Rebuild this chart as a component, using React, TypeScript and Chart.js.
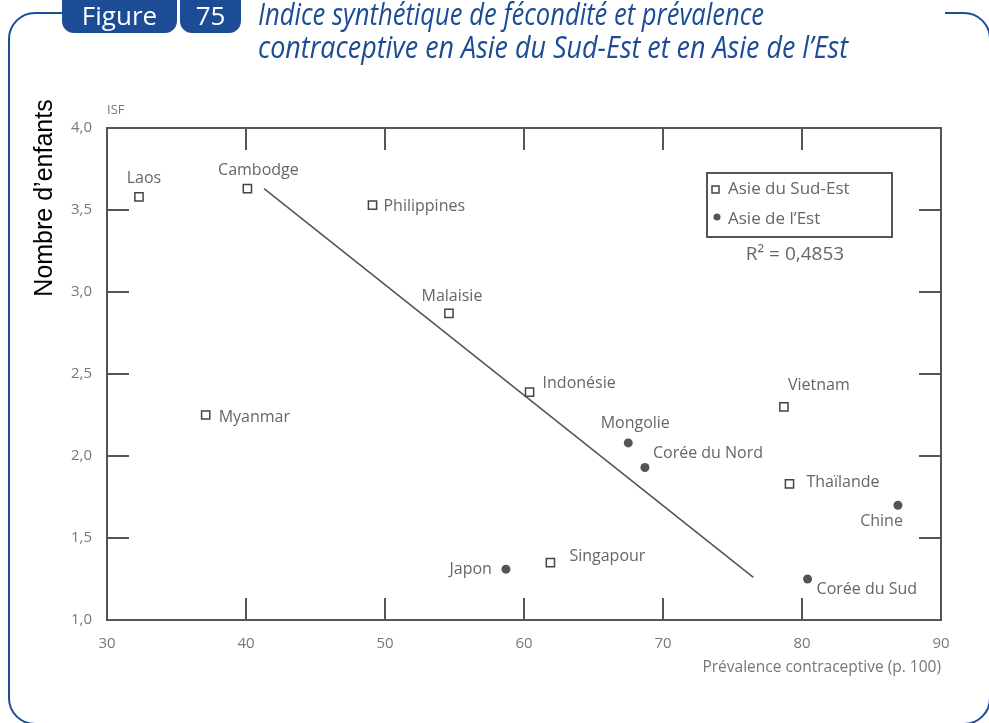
import React, { useEffect, useLayoutEffect, useRef, useState } from 'react';
import { Chart, registerables } from 'chart.js';
Chart.register(...registerables);

// ---- Data ----
const seaCountries = ['Laos', 'Cambodge', 'Philippines', 'Malaisie', 'Indonésie', 'Myanmar', 'Vietnam', 'Thaïlande', 'Singapour'];
const seaPrevalence = [32.3, 40.1, 49.1, 54.6, 60.4, 37.1, 78.7, 79.1, 61.9];
const seaISF = [3.58, 3.63, 3.53, 2.87, 2.39, 2.25, 2.3, 1.83, 1.35];

const eaCountries = ['Mongolie', 'Corée du Nord', 'Japon', 'Chine', 'Corée du Sud'];
const eaPrevalence = [67.5, 68.7, 58.7, 86.9, 80.4];
const eaISF = [2.08, 1.93, 1.31, 1.7, 1.25];

const trendPrevalence = [41.3, 76.5];
const trendISF = [3.63, 1.26];

const xTickLabels = ['30', '40', '50', '60', '70', '80', '90'];
const yTickLabels = ['1,0', '1,5', '2,0', '2,5', '3,0', '3,5', '4,0'];
const legendLabels = ['Asie du Sud-Est', 'Asie de l\u2019Est'];
const r2Text = 'R\u00B2 = 0,4853';
const yAxisTitle = 'Nombre d\u2019enfants';
const yUnitLabel = 'ISF';
const xAxisTitle = 'Prévalence contraceptive (p. 100)';
const titleLines = ['Indice synthétique de fécondité et prévalence', 'contraceptive en Asie du Sud-Est et en Asie de l\u2019Est'];

// ---- Label placement (style) : [dx, dy, align] ----
const seaLabelPos: [number, number, CanvasTextAlign][] = [
  [5, -18, 'center'], [11, -18, 'center'], [11, 1, 'left'], [3, -17, 'center'], [13, -9, 'left'],
  [13, 2, 'left'], [4, -21, 'left'], [17, -1, 'left'], [19, -6, 'left'],
];
const eaLabelPos: [number, number, CanvasTextAlign][] = [
  [7, -19, 'center'], [8, -14, 'left'], [-14, 0, 'right'], [5, 16, 'right'], [9, 10, 'left'],
];

const GRAY = '#555555';
const LABEL = '#666666';
const TICK = '#777777';
const BLUE = '#1b4c95';
const FONT = '"Open Sans", "Noto Sans", sans-serif';

const annotPlugin = {
  id: 'annot',
  beforeDatasetsDraw(chart: any) {
    const { ctx, chartArea: a, scales } = chart;
    const xs = scales.x, ys = scales.y;
    ctx.save();
    ctx.strokeStyle = GRAY;
    ctx.lineWidth = 2;
    ctx.strokeRect(a.left, a.top, a.right - a.left, a.bottom - a.top);
    const L = 22;
    ctx.beginPath();
    xs.ticks.forEach((t: any) => {
      const px = xs.getPixelForValue(t.value);
      if (px <= a.left + 1 || px >= a.right - 1) return;
      ctx.moveTo(px, a.bottom); ctx.lineTo(px, a.bottom - L);
      ctx.moveTo(px, a.top); ctx.lineTo(px, a.top + L);
    });
    ys.ticks.forEach((t: any) => {
      const py = ys.getPixelForValue(t.value);
      if (py <= a.top + 1 || py >= a.bottom - 1) return;
      ctx.moveTo(a.left, py); ctx.lineTo(a.left + L, py);
      ctx.moveTo(a.right, py); ctx.lineTo(a.right - L, py);
    });
    ctx.stroke();
    ctx.restore();
  },
  afterDatasetsDraw(chart: any) {
    const { ctx, chartArea: a } = chart;
    ctx.save();
    ctx.fillStyle = LABEL;
    ctx.font = `16px ${FONT}`;
    ctx.textBaseline = 'middle';
    const drawLabels = (di: number, names: string[], pos: [number, number, CanvasTextAlign][]) => {
      const meta = chart.getDatasetMeta(di);
      meta.data.forEach((el: any, i: number) => {
        const [dx, dy, al] = pos[i];
        ctx.textAlign = al;
        ctx.fillText(names[i], el.x + dx, el.y + dy);
      });
    };
    drawLabels(0, seaCountries, seaLabelPos);
    drawLabels(1, eaCountries, eaLabelPos);

    // ISF label
    ctx.font = `13px ${FONT}`;
    ctx.fillStyle = TICK;
    ctx.textAlign = 'left';
    ctx.fillText(yUnitLabel, a.left, a.top - 18);

    // Y axis title (rotated)
    ctx.save();
    ctx.translate(45, 198);
    ctx.rotate(-Math.PI / 2);
    ctx.fillStyle = '#000';
    ctx.font = '25px "Liberation Sans", Arial, sans-serif';
    ctx.textAlign = 'center';
    ctx.fillText(yAxisTitle, 0, 0);
    ctx.restore();

    // Legend box
    const bx = a.right - 234, by = a.top + 45, bw = 185, bh = 64;
    ctx.strokeStyle = GRAY;
    ctx.lineWidth = 2;
    ctx.strokeRect(bx, by, bw, bh);
    ctx.lineWidth = 1.5;
    ctx.strokeStyle = '#444';
    ctx.fillStyle = '#fff';
    ctx.fillRect(bx + 5, by + 13, 7, 7);
    ctx.strokeRect(bx + 5, by + 13, 7, 7);
    ctx.fillStyle = GRAY;
    ctx.beginPath();
    ctx.arc(bx + 10, by + 44, 3.5, 0, Math.PI * 2);
    ctx.fill();
    ctx.fillStyle = LABEL;
    ctx.font = `17px ${FONT}`;
    ctx.textAlign = 'left';
    ctx.fillText(legendLabels[0], bx + 21, by + 16);
    ctx.fillText(legendLabels[1], bx + 21, by + 46);
    ctx.font = `19px ${FONT}`;
    ctx.textAlign = 'center';
    ctx.fillText(r2Text, bx + 88, by + 82);
    ctx.restore();
  },
};

export default function App() {
  const canvasRef = useRef<HTMLCanvasElement | null>(null);
  const [scales, setScales] = useState<number[]>([1, 1]);

  useLayoutEffect(() => {
    const c = document.createElement('canvas').getContext('2d');
    if (!c) return;
    c.font = `italic 31px ${FONT}`;
    const targets = [506, 590];
    setScales(titleLines.map((t, i) => targets[i] / c.measureText(t).width));
  }, []);

  useEffect(() => {
    document.body.style.margin = '0';
    const canvas = canvasRef.current;
    if (!canvas) return;
    const chart = new Chart(canvas, {
      type: 'scatter',
      data: {
        datasets: [
          {
            label: legendLabels[0],
            data: seaPrevalence.map((x, i) => ({ x, y: seaISF[i] })),
            pointStyle: 'rect',
            pointRadius: 5.8,
            borderColor: '#444',
            backgroundColor: '#fff',
            borderWidth: 1.5,
          },
          {
            label: legendLabels[1],
            data: eaPrevalence.map((x, i) => ({ x, y: eaISF[i] })),
            pointStyle: 'circle',
            pointRadius: 4.5,
            borderWidth: 0,
            backgroundColor: GRAY,
          },
          {
            label: 'Tendance',
            data: trendPrevalence.map((x, i) => ({ x, y: trendISF[i] })),
            showLine: true,
            pointRadius: 0,
            borderColor: GRAY,
            borderWidth: 1.6,
          },
        ],
      },
      options: {
        responsive: false,
        animation: false,
        devicePixelRatio: 1,
        layout: { padding: { top: 128, right: 48, left: 0, bottom: 0 } },
        plugins: { legend: { display: false }, tooltip: { enabled: false } },
        scales: {
          x: {
            type: 'linear',
            min: 30,
            max: 90,
            ticks: {
              stepSize: 10,
              padding: 15,
              color: TICK,
              font: { family: FONT, size: 15 },
              callback: (_v: any, i: number) => xTickLabels[i],
            },
            grid: { display: false, drawTicks: false },
            border: { display: false },
            title: {
              display: true,
              text: xAxisTitle,
              align: 'end',
              color: TICK,
              font: { family: FONT, size: 15.5 },
              padding: { top: 0, bottom: 46 },
            },
            afterFit: (s: any) => { s.height = 103; },
          },
          y: {
            type: 'linear',
            min: 1,
            max: 4,
            ticks: {
              stepSize: 0.5,
              padding: 15,
              color: TICK,
              font: { family: FONT, size: 15 },
              callback: (_v: any, i: number) => yTickLabels[i],
            },
            grid: { display: false, drawTicks: false },
            border: { display: false },
            afterFit: (s: any) => { s.width = 107; },
          },
        },
      },
      plugins: [annotPlugin],
    } as any);
    return () => chart.destroy();
  }, []);

  return (
    <div style={{ position: 'fixed', left: 0, top: 0, width: 989, height: 723, background: '#fff', overflow: 'hidden' }}>
      <svg width={989} height={723} style={{ position: 'absolute', left: 0, top: 0 }}>
        <path
          d="M62 13 H35 A26 26 0 0 0 9 39 V698 A26 26 0 0 0 35 724 H964 A26 26 0 0 0 990 698 V39 A26 26 0 0 0 964 13 H945"
          fill="none"
          stroke={BLUE}
          strokeWidth={2}
        />
        <path d="M62 0 H177 V21 A12 12 0 0 1 165 33 H74 A12 12 0 0 1 62 21 Z" fill={BLUE} />
        <path d="M180 0 H241 V21 A12 12 0 0 1 229 33 H192 A12 12 0 0 1 180 21 Z" fill={BLUE} />
      </svg>
      <canvas
        ref={canvasRef}
        width={989}
        height={723}
        style={{ position: 'absolute', left: 0, top: 0, width: 989, height: 723 }}
      />
      <div style={{ position: 'absolute', left: 62, top: -1, width: 115, textAlign: 'center', color: '#fff', font: `26px ${FONT}`, lineHeight: '33px' }}>Figure</div>
      <div style={{ position: 'absolute', left: 180, top: -1, width: 61, textAlign: 'center', color: '#fff', font: `26px ${FONT}`, lineHeight: '33px' }}>75</div>
      <div style={{ position: 'absolute', left: 258, top: -3, color: BLUE, font: `italic 31px ${FONT}`, lineHeight: '33px' }}>
        {titleLines.map((t, i) => (
          <div key={i} style={{ whiteSpace: 'nowrap', transformOrigin: 'left center', transform: `scaleX(${scales[i]})` }}>{t}</div>
        ))}
      </div>
    </div>
  );
}
